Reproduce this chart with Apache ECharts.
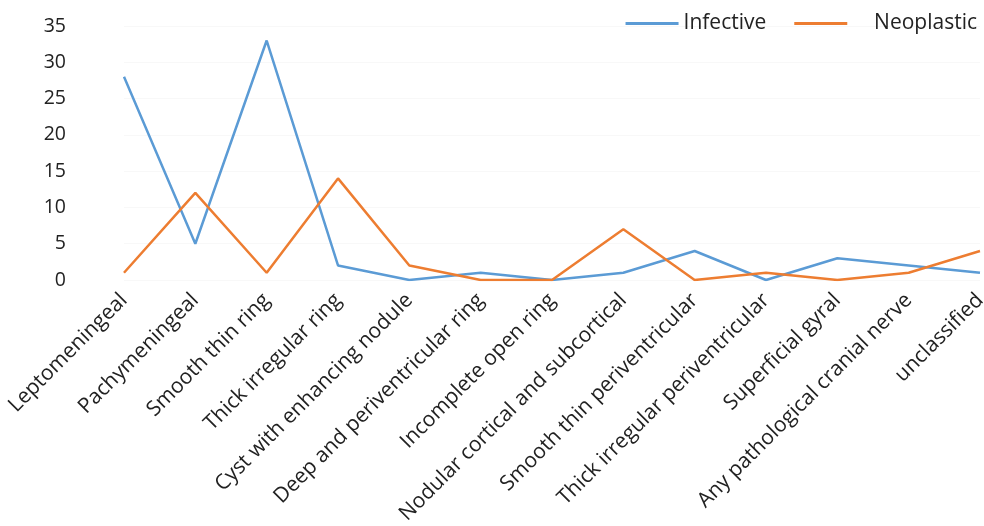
<!DOCTYPE html>
<html>
<head>
<meta charset="utf-8">
<script src="https://cdn.jsdelivr.net/npm/echarts@6/dist/echarts.min.js"></script>
<style>
  html, body { margin: 0; padding: 0; background: #fff; }
  #chart { width: 984px; height: 526px; }
</style>
</head>
<body>
<div id="chart"></div>
<script>
// Enhancement pattern categories
const categories = [
  'Leptomeningeal', 'Pachymeningeal', 'Smooth thin ring', 'Thick irregular ring',
  'Cyst with enhancing nodule', 'Deep and periventricular ring', 'Incomplete open ring',
  'Nodular cortical and subcortical', 'Smooth thin periventricular',
  'Thick irregular periventricular', 'Superficial gyral',
  'Any pathological cranial nerve', 'unclassified'
];
const infective = [28, 5, 33, 2, 0, 1, 0, 1, 4, 0, 3, 2, 1];
const neoplastic = [1, 12, 1, 14, 2, 0, 0, 7, 0, 1, 0, 1, 4];
const yTicks = [0, 5, 10, 15, 20, 25, 30, 35];

const FONT = '"Open Sans", "Noto Sans", sans-serif';
const chart = echarts.init(document.getElementById('chart'));
chart.setOption({
  animation: false,
  backgroundColor: '#ffffff',
  textStyle: { fontFamily: FONT },
  legend: {
    top: 8,
    right: 2,
    itemWidth: 53,
    itemHeight: 3,
    itemGap: 28,
    icon: 'rect',
    formatter: name => (name === 'Neoplastic' ? '    ' + name : name),
    textStyle: { fontSize: 21, color: '#222', fontFamily: FONT },
    data: ['Infective', 'Neoplastic']
  },
  grid: {
    left: 124, right: 4, top: 26, bottom: 246,
    containLabel: false,
    outerBoundsMode: 'none'
  },
  xAxis: {
    type: 'category',
    data: categories,
    boundaryGap: false,
    axisLine: { show: false },
    axisTick: { show: false },
    axisLabel: {
      rotate: 45,
      interval: 0,
      margin: 17,
      fontSize: 21,
      color: '#222',
      fontFamily: FONT
    }
  },
  yAxis: {
    type: 'value',
    min: yTicks[0],
    max: yTicks[yTicks.length - 1],
    interval: 5,
    axisLine: { show: false },
    axisTick: { show: false },
    splitLine: { show: true, lineStyle: { color: '#f8f8f8', width: 1 } },
    axisLabel: {
      margin: 58,
      fontSize: 19.5,
      color: '#222',
      fontFamily: FONT
    }
  },
  series: [
    {
      name: 'Infective',
      type: 'line',
      data: infective,
      symbol: 'none',
      lineStyle: { color: '#5B9BD5', width: 2.5 },
      itemStyle: { color: '#5B9BD5' }
    },
    {
      name: 'Neoplastic',
      type: 'line',
      data: neoplastic,
      symbol: 'none',
      lineStyle: { color: '#ED7D31', width: 2.5 },
      itemStyle: { color: '#ED7D31' }
    }
  ]
});
</script>
</body>
</html>
